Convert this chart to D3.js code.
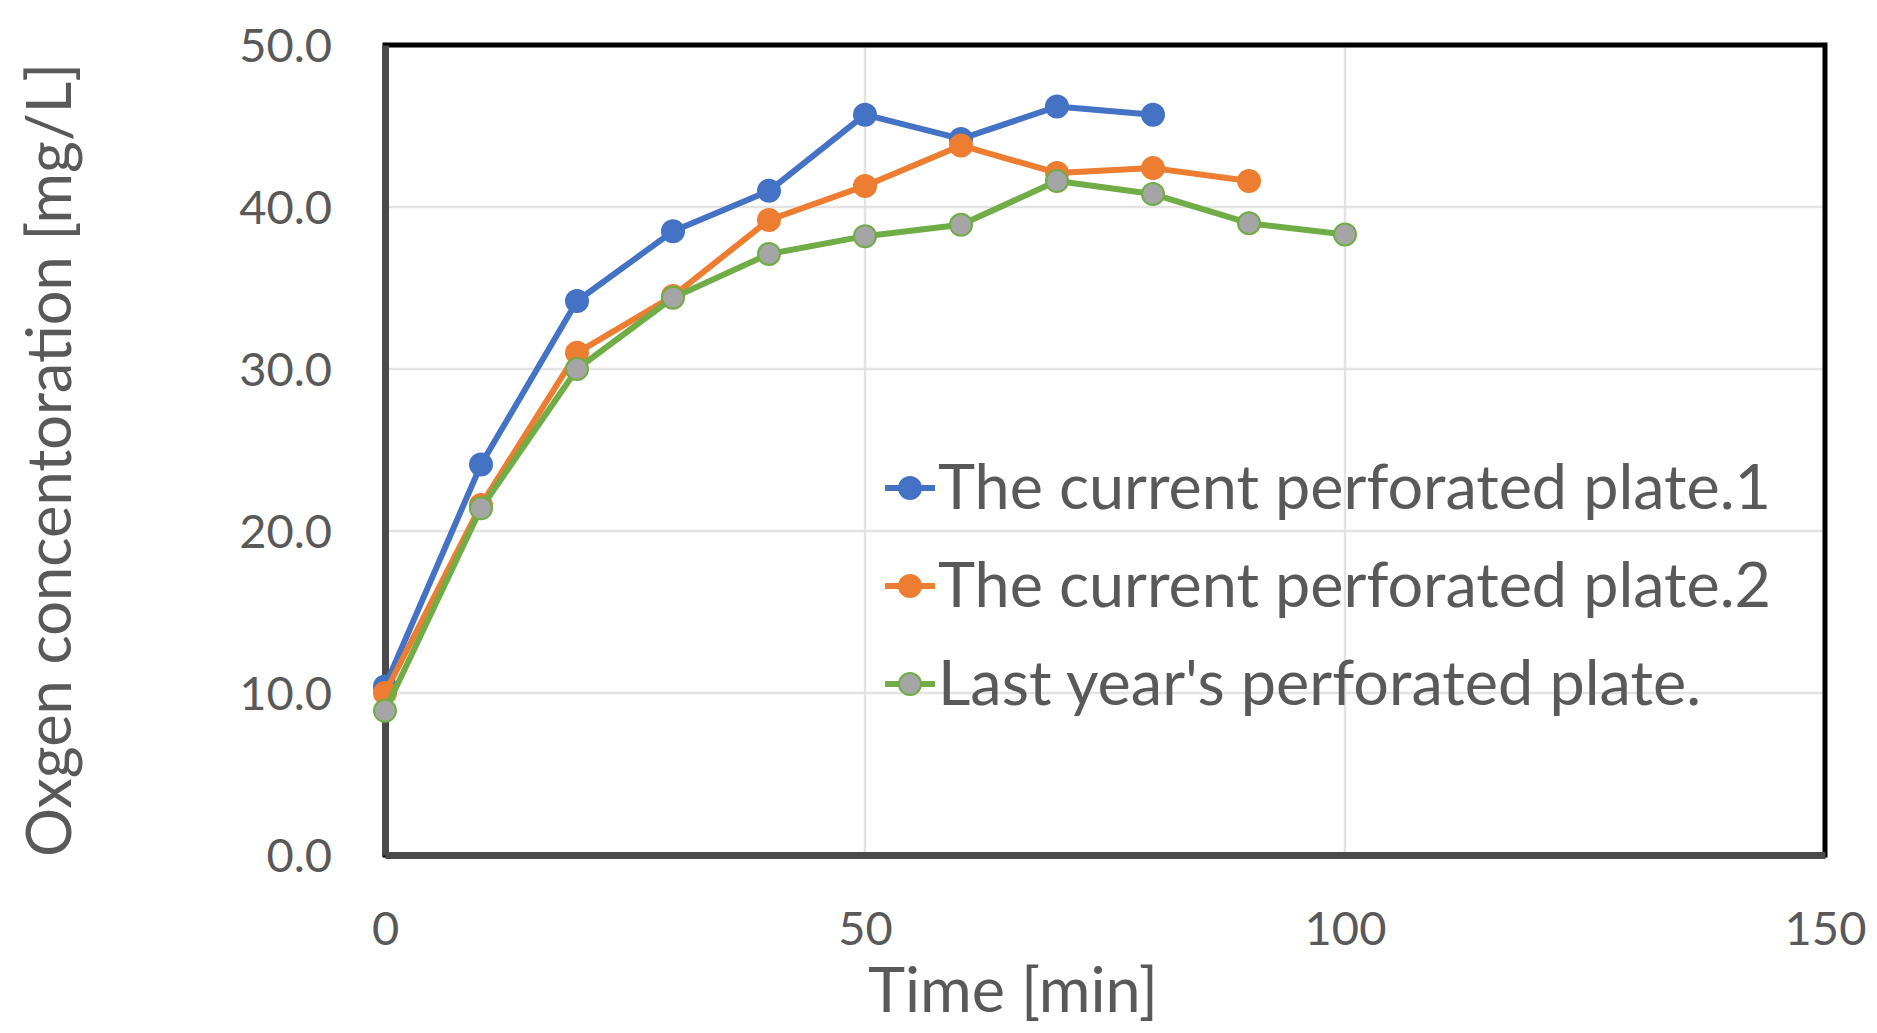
<!DOCTYPE html>
<html>
<head>
<meta charset="utf-8">
<script src="https://cdn.jsdelivr.net/npm/d3@7"></script>
<style>
  html, body { margin: 0; padding: 0; background: #fff; }
  svg { display: block; }
  text { font-family: Lato, "Open Sans", sans-serif; fill: #595959; }
</style>
</head>
<body>
<svg id="chart" width="1877" height="1033"></svg>
<script>
// ---- data ----
const time = [0, 10, 20, 30, 40, 50, 60, 70, 80, 90, 100];
const plate1 = [10.4, 24.1, 34.2, 38.5, 41.0, 45.7, 44.2, 46.2, 45.7];
const plate2 = [10.0, 21.6, 31.0, 34.5, 39.2, 41.3, 43.8, 42.1, 42.4, 41.6];
const lastYear = [8.9, 21.4, 30.0, 34.4, 37.1, 38.2, 38.9, 41.6, 40.8, 39.0, 38.3];
const seriesNames = ["The current perforated plate.1", "The current perforated plate.2", "Last year's perforated plate."];
const xTicks = [0, 50, 100, 150];
const yTicks = [0, 10, 20, 30, 40, 50];
const xTitle = "Time [min]";
const yTitle = "Oxgen concentoration [mg/L]";

// ---- layout ----
const svg = d3.select("#chart");
const L = 385, R = 1825, T = 45, B = 855;
const x = d3.scaleLinear().domain([0, 150]).range([L, R]);
const y = d3.scaleLinear().domain([0, 50]).range([B, T]);

const series = [
  { name: seriesNames[0], values: plate1, line: "#4472C4", fill: "#4472C4", stroke: "#4472C4" },
  { name: seriesNames[1], values: plate2, line: "#ED7D31", fill: "#ED7D31", stroke: "#ED7D31" },
  { name: seriesNames[2], values: lastYear, line: "#70AD47", fill: "#A5A5A5", stroke: "#70AD47" }
];

// gridlines
const grid = svg.append("g");
grid.selectAll("line.h").data(yTicks.filter(v => v > 0 && v < 50)).join("line")
  .attr("x1", L).attr("x2", R).attr("y1", d => y(d)).attr("y2", d => y(d))
  .attr("stroke", "#E3E3E3").attr("stroke-width", 2.5);
grid.selectAll("line.v").data(xTicks.filter(v => v > 0 && v < 150)).join("line")
  .attr("x1", d => x(d)).attr("x2", d => x(d)).attr("y1", T).attr("y2", B)
  .attr("stroke", "#E3E3E3").attr("stroke-width", 2.5);

// frame
svg.append("rect").attr("x", L).attr("y", T).attr("width", R - L).attr("height", B - T)
  .attr("fill", "none").attr("stroke", "#000").attr("stroke-width", 5);

// axes (left & bottom gray)
const yAxis = d3.axisLeft(y).tickValues(yTicks).tickSize(0).tickPadding(53).tickFormat(d3.format(".1f"));
const gy = svg.append("g").attr("transform", `translate(${L},0)`).call(yAxis);
gy.select(".domain").attr("stroke", "#4a4a4a").attr("stroke-width", 7);
gy.selectAll("text").style("font-size", "47px").attr("fill", "#595959").attr("dy", "0.36em");

const xAxis = d3.axisBottom(x).tickValues(xTicks).tickSize(0).tickPadding(90).tickFormat(d3.format("d"));
const gx = svg.append("g").attr("transform", `translate(0,${B})`).call(xAxis);
gx.select(".domain").attr("stroke", "#4a4a4a").attr("stroke-width", 7);
gx.selectAll("text").style("font-size", "47px").attr("fill", "#595959").attr("dy", "0");

// lines and markers
const lineGen = d3.line().x((d, i) => x(time[i])).y(d => y(d));
series.forEach(s => {
  const g = svg.append("g");
  g.append("path").datum(s.values).attr("d", lineGen)
    .attr("fill", "none").attr("stroke", s.line).attr("stroke-width", 6)
    .attr("stroke-linejoin", "round");
  g.selectAll("circle").data(s.values).join("circle")
    .attr("cx", (d, i) => x(time[i])).attr("cy", d => y(d)).attr("r", 11)
    .attr("fill", s.fill).attr("stroke", s.stroke).attr("stroke-width", 2);
});

// legend
const legendLens = [833, 833, 763];
const lg = svg.append("g");
series.forEach((s, i) => {
  const cy = 488 + i * 98;
  lg.append("line").attr("x1", 885).attr("x2", 935).attr("y1", cy).attr("y2", cy)
    .attr("stroke", s.line).attr("stroke-width", 6);
  lg.append("circle").attr("cx", 910).attr("cy", cy).attr("r", 11)
    .attr("fill", s.fill).attr("stroke", s.stroke).attr("stroke-width", 2);
  lg.append("text").attr("x", 938).attr("y", cy + 21).text(s.name)
    .style("font-size", "61px")
    .attr("textLength", legendLens[i]).attr("lengthAdjust", "spacingAndGlyphs");
});

// axis titles
svg.append("text").attr("x", 868).attr("y", 1012).text(xTitle)
  .style("font-size", "61px").attr("textLength", 290).attr("lengthAdjust", "spacingAndGlyphs");
svg.append("text").attr("transform", "translate(71,460) rotate(-90)")
  .attr("text-anchor", "middle").text(yTitle)
  .style("font-size", "61px").attr("textLength", 794).attr("lengthAdjust", "spacingAndGlyphs");
</script>
</body>
</html>
